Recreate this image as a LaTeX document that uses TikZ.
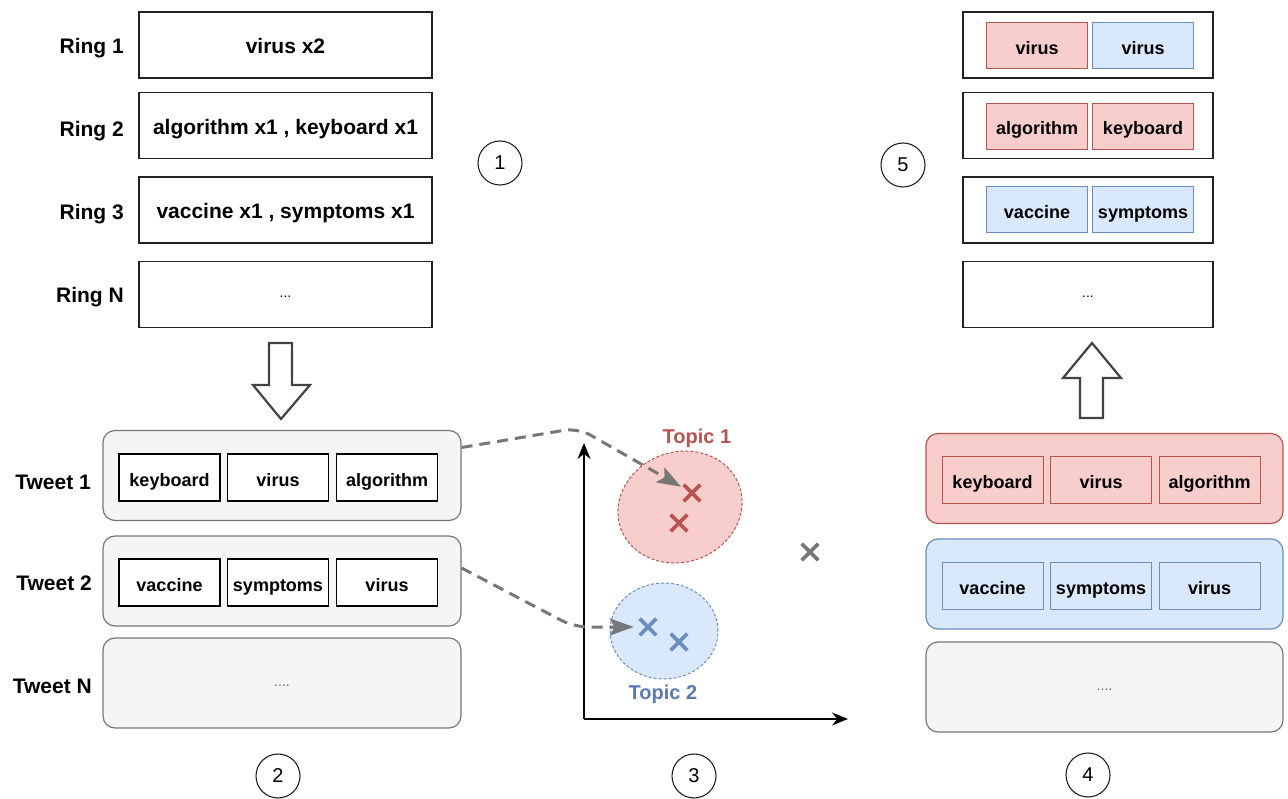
\documentclass[tikz,border=0pt]{standalone}
\usepackage{fontspec}
\setmainfont{Liberation Sans}
\usetikzlibrary{arrows.meta,shapes.geometric,shapes.misc,calc}
\definecolor{redfill}{HTML}{F8CECC}
\definecolor{redline}{HTML}{B85450}
\definecolor{bluefill}{HTML}{DAE8FC}
\definecolor{blueline}{HTML}{6C8EBF}
\definecolor{bluetext}{HTML}{5A7AB0}
\definecolor{greyfill}{HTML}{F5F5F5}
\definecolor{greyline}{HTML}{777777}
\definecolor{ink}{HTML}{222222}

\begin{document}
\begin{tikzpicture}[x=1pt,y=-1pt,
  bigtxt/.style={font=\fontsize{21}{25}\selectfont\bfseries, text height=18pt, text depth=0pt},
  wordtxt/.style={font=\fontsize{18}{22}\selectfont\bfseries, text height=17pt, text depth=0pt},
  dotstxt/.style={font=\fontsize{14}{16}\selectfont, text=ink!70, text height=6pt, text depth=0pt},
  ringlbl/.style={bigtxt, anchor=east, inner sep=0pt},
  ringbox/.style={draw=ink, line width=1.4pt, fill=white, inner sep=0pt,
    minimum width=293pt, minimum height=66pt, bigtxt},
  outbox/.style={draw=ink, line width=1.4pt, fill=white, inner sep=0pt,
    minimum width=250pt, minimum height=66pt},
  tweetbox/.style={draw=greyline, line width=1.2pt, fill=greyfill, rounded corners=12pt,
    inner sep=0pt, minimum width=358pt, minimum height=90pt},
  redtweet/.style={tweetbox, draw=redline, fill=redfill, minimum width=357pt},
  bluetweet/.style={tweetbox, draw=blueline, fill=bluefill, minimum width=357pt},
  greytweet/.style={tweetbox, minimum width=357pt},
  word/.style={draw=black, line width=1.3pt, fill=white, inner sep=0pt,
    minimum width=101pt, minimum height=47pt, wordtxt},
  redword/.style={word, draw=redline, fill=redfill, line width=1pt},
  blueword/.style={word, draw=blueline, fill=bluefill, line width=1pt},
  stepnum/.style={circle, draw=ink, line width=1.1pt, minimum size=44pt, inner sep=0pt,
    font=\fontsize{20}{24}\selectfont},
  topiclbl/.style={font=\fontsize{20}{24}\selectfont\bfseries, inner sep=0pt,
    text height=15pt, text depth=0pt},
  hollow/.style={draw=ink!85, line width=2.2pt, fill=white, line join=miter},
  link/.style={draw=greyline, line width=3pt, dash pattern=on 11pt off 7pt,
    rounded corners=14pt, -{Stealth[length=24pt,width=17pt,inset=5pt,fill=greyline]}},
  axisline/.style={draw=black, line width=2pt, -{Stealth[length=16pt,width=13pt]}},
  cluster/.style={ellipse, dash pattern=on 3pt off 2pt, line width=1pt, inner sep=0pt},
  xmark/.style={cross out, line width=3.6pt, minimum size=13pt, inner sep=0pt},
]
\useasboundingbox (0,0) rectangle (1288,799);

% ---- rings (input) ----
\node[ringbox] (ring1) at (285.5,45) {virus x2};
\node[ringbox] (ring2) at (285.5,125.5) {algorithm x1 , keyboard x1};
\node[ringbox] (ring3) at (285.5,210) {vaccine x1 , symptoms x1};
\node[ringbox, dotstxt, text=black] (ringN) at (285.5,294.5) {...};
\node[ringlbl] (lr1) at (124,45) {Ring 1};
\node[ringlbl] (lr2) at (124,128) {Ring 2};
\node[ringlbl] (lr3) at (124,211) {Ring 3};
\node[ringlbl] (lrN) at (124,294) {Ring N};
\node[stepnum] (s1) at (500,163) {1};

% ---- hollow arrow down ----
\draw[hollow] (269,343) -- (292,343) -- (292,385) -- (310,385) -- (281,419)
  -- (253,385) -- (269,385) -- cycle;

% ---- tweets ----
\node[tweetbox] (tw1) at (282,475.5) {};
\node[tweetbox] (tw2) at (282,581) {};
\node[tweetbox, dotstxt] (twN) at (282,683) {....};
\node[word] (t1a) at (169.5,477.5) {keyboard};
\node[word] (t1b) at (278,477.5) {virus};
\node[word] (t1c) at (387,477.5) {algorithm};
\node[word] (t2a) at (169.5,582.5) {vaccine};
\node[word] (t2b) at (278,582.5) {symptoms};
\node[word] (t2c) at (387,582.5) {virus};
\node[ringlbl] (lt1) at (91,480) {Tweet 1};
\node[ringlbl] (lt2) at (92,581) {Tweet 2};
\node[ringlbl] (ltN) at (92,684) {Tweet N};
\node[stepnum] (s2) at (278,776) {2};

% ---- topic space ----
\coordinate (origin) at (584,719);
\coordinate (ytop) at (584,443);
\coordinate (xend) at (848,719);
\draw[axisline] (origin) -- (ytop);
\draw[axisline] (origin) -- (xend);

\node[cluster, draw=redline, fill=redfill, minimum width=126pt, minimum height=110pt,
  rotate=20] (topic1) at (680,507) {};
\node[cluster, draw=blueline, fill=bluefill, minimum width=108pt, minimum height=96pt]
  (topic2) at (664,631) {};
\node[topiclbl, text=redline] (lt1b) at (697,436) {Topic 1};
\node[topiclbl, text=bluetext] (lt2b) at (663,692) {Topic 2};

\node[xmark, draw=redline] (r1) at (692,493) {};
\node[xmark, draw=redline] (r2) at (679,523) {};
\node[xmark, draw=blueline] (b1) at (648,627) {};
\node[xmark, draw=blueline] (b2) at (679,642) {};
\node[xmark, draw=greyline] (g1) at (810,552) {};

\draw[link, shorten >=3pt] ([yshift=28pt]tw1.east) -- (578,428) -- (r1);
\draw[link, shorten >=6pt] ([yshift=13pt]tw2.east) -- (574,627) -- (b1);
\node[stepnum] (s3) at (694,776) {3};

% ---- clustered tweets ----
\node[redtweet] (ct1) at (1104.5,478.5) {};
\node[bluetweet] (ct2) at (1104.5,584) {};
\node[greytweet, dotstxt] (ctN) at (1104.5,687) {....};
\node[redword] (c1a) at (992.5,480) {keyboard};
\node[redword] (c1b) at (1101,480) {virus};
\node[redword] (c1c) at (1209.5,480) {algorithm};
\node[blueword] (c2a) at (992.5,586) {vaccine};
\node[blueword] (c2b) at (1101,586) {symptoms};
\node[blueword] (c2c) at (1209.5,586) {virus};
\node[stepnum] (s4) at (1088,775) {4};

% ---- hollow arrow up ----
\draw[hollow] (1080,418) -- (1103,418) -- (1103,378) -- (1121,378) -- (1092,343)
  -- (1063,378) -- (1080,378) -- cycle;

% ---- rings (output) ----
\node[outbox] (o1) at (1088,45) {};
\node[outbox] (o2) at (1088,125.5) {};
\node[outbox] (o3) at (1088,210) {};
\node[outbox, dotstxt, text=black] (oN) at (1088,294.5) {...};
\node[redword, minimum height=46pt] (o1a) at (1037,46) {virus};
\node[blueword, minimum height=46pt] (o1b) at (1143,46) {virus};
\node[redword, minimum height=46pt] (o2a) at (1037,126.5) {algorithm};
\node[redword, minimum height=46pt] (o2b) at (1143,126.5) {keyboard};
\node[blueword, minimum height=46pt] (o3a) at (1037,210) {vaccine};
\node[blueword, minimum height=46pt] (o3b) at (1143,210) {symptoms};
\node[stepnum] (s5) at (903,165) {5};
\end{tikzpicture}
\end{document}
